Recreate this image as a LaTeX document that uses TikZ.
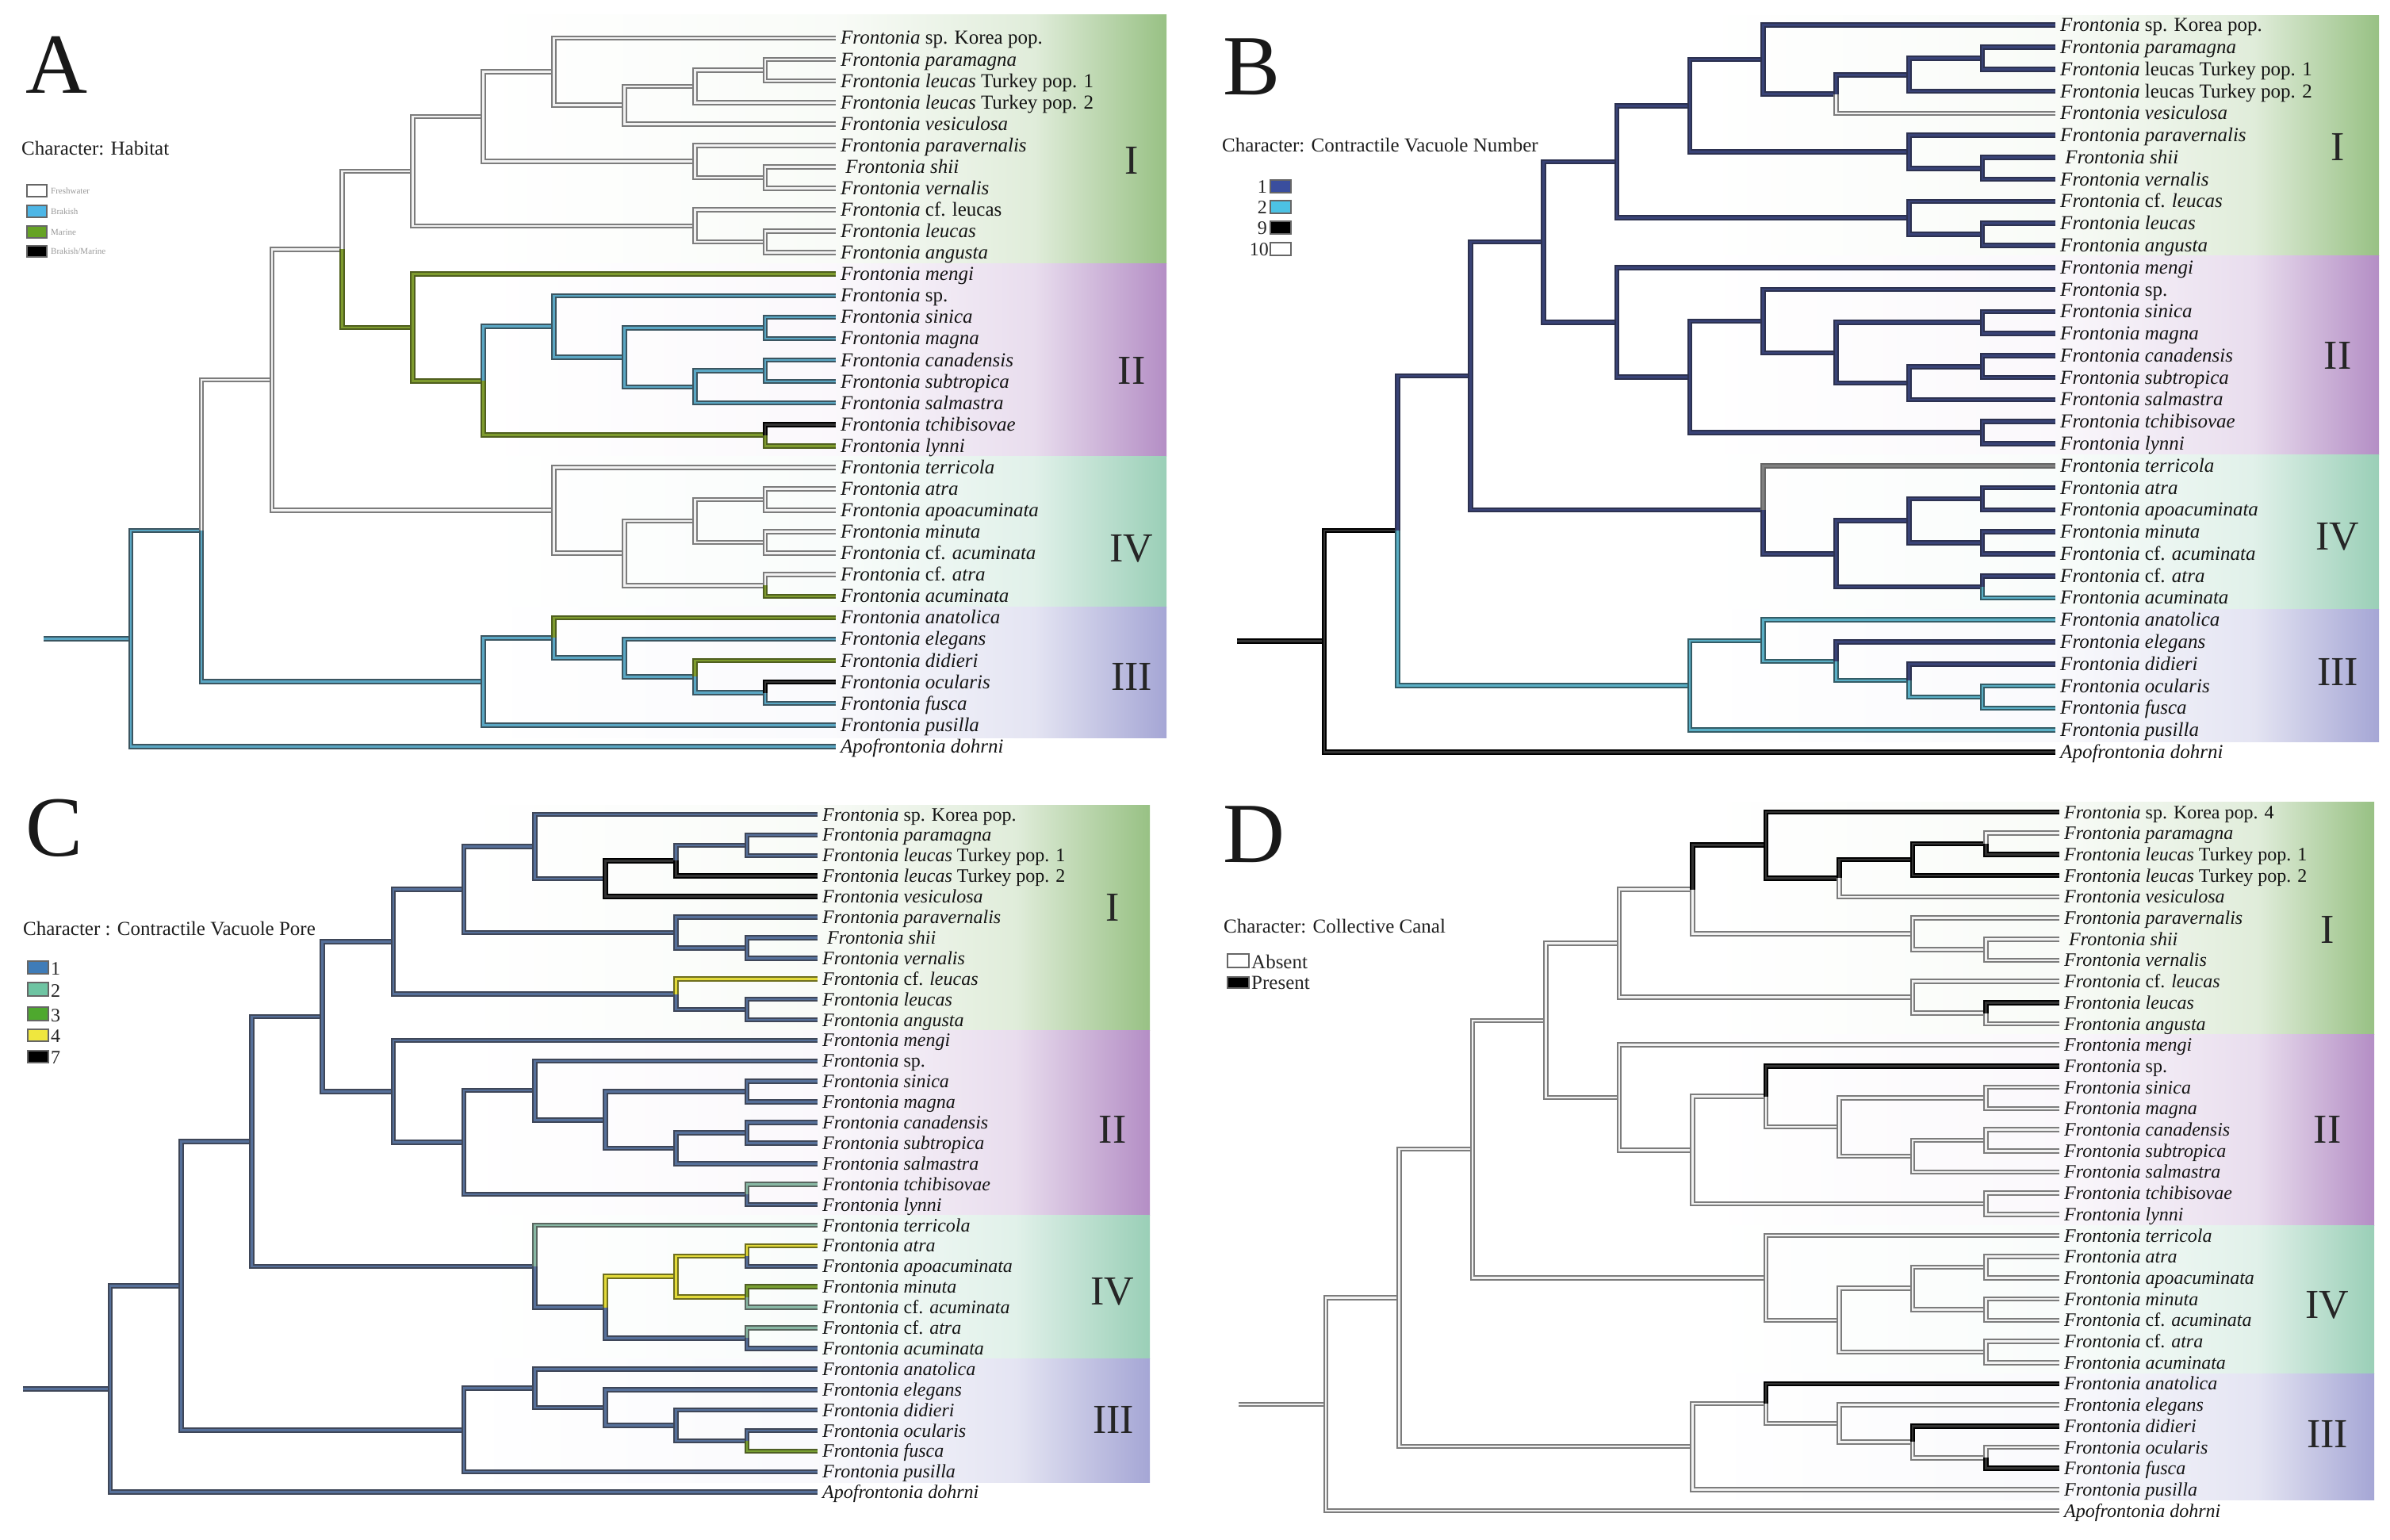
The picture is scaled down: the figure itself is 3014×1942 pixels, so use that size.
\documentclass[tikz,border=0pt]{standalone}
\usepackage{fontspec}
\setmainfont{Liberation Serif}
\usetikzlibrary{calc}

\definecolor{fwb}{HTML}{7C7C7C}
\definecolor{fwi}{HTML}{F2F2F2}
\definecolor{brkb}{HTML}{3B5560}
\definecolor{brki}{HTML}{5AA7C4}
\definecolor{marb}{HTML}{4F5F1E}
\definecolor{mari}{HTML}{7E9B2E}
\definecolor{navyb}{HTML}{2C3150}
\definecolor{navyi}{HTML}{394377}
\definecolor{s2b}{HTML}{345C66}
\definecolor{s2i}{HTML}{5AAFC6}
\definecolor{slateb}{HTML}{3E4658}
\definecolor{slatei}{HTML}{56709A}
\definecolor{p2b}{HTML}{5A6660}
\definecolor{p2i}{HTML}{88B8A4}
\definecolor{p3b}{HTML}{4E5E24}
\definecolor{p3i}{HTML}{78A032}
\definecolor{p4b}{HTML}{6E6E1E}
\definecolor{p4i}{HTML}{E2DA3A}
\definecolor{legbr}{HTML}{4DB6E6}
\definecolor{legma}{HTML}{66A324}
\definecolor{legBa}{HTML}{3A4E9E}
\definecolor{legBb}{HTML}{4CC2E4}
\definecolor{legCa}{HTML}{3F7CB8}
\definecolor{legCb}{HTML}{6EC4A2}
\definecolor{legCc}{HTML}{4EA82E}
\definecolor{legCd}{HTML}{EFE73E}
\definecolor{bandI}{HTML}{98C184}
\definecolor{bandII}{HTML}{B48EC5}
\definecolor{bandIV}{HTML}{9ACFB7}
\definecolor{bandIII}{HTML}{A5A6D5}

\tikzset{
 brn/.style={line width=2pt, double distance=2.6pt, line cap=butt, line join=miter},
 Afw/.style={brn, draw=fwb, double=fwi},
 Abr/.style={brn, draw=brkb, double=brki},
 Ama/.style={brn, draw=marb, double=mari},
 Abm/.style={brn, draw=black, double=black!80},
 Adef/.style={Afw},
 Bs1/.style={brn, draw=navyb, double=navyi},
 Bs2/.style={brn, draw=s2b, double=s2i},
 Bs9/.style={brn, draw=black, double=black!80},
 Bs10/.style={brn, draw=fwb, double=fwi},
 Bgr/.style={brn, draw=black!60, double=black!50},
 Bdef/.style={Bs1},
 Cp1/.style={brn, draw=slateb, double=slatei},
 Cp2/.style={brn, draw=p2b, double=p2i},
 Cp3/.style={brn, draw=p3b, double=p3i},
 Cp4/.style={brn, draw=p4b, double=p4i},
 Cp7/.style={brn, draw=black, double=black!80},
 Cdef/.style={Cp1},
 Dab/.style={brn, draw=fwb, double=fwi},
 Dpr/.style={brn, draw=black, double=black!80},
 Ddef/.style={Dab},
 lab/.style={anchor=base west, inner sep=0pt, text=black!92, font=\fontsize{\lfs}{\lfs}\selectfont},
 num/.style={text=black!85, inner sep=0pt, font=\fontsize{52}{52}\selectfont},
 ttl/.style={anchor=base west, inner sep=0pt, text=black!88, font=\fontsize{25}{25}\selectfont},
 big/.style={anchor=base west, inner sep=0pt, text=black!90, font=\fontsize{108}{108}\selectfont},
 lbox/.style={draw=black!60, line width=1.2pt},
 tiny/.style={anchor=west, inner sep=0pt, text=black!40, font=\fontsize{11}{11}\selectfont},
 legt/.style={inner sep=0pt, text=black!85, font=\fontsize{24}{24}\selectfont},
}

% branch state overrides
\newcommand\setst[3]{\foreach \x in {#3}{\expandafter\gdef\csname bst#1\x\endcsname{#2}}}
\setst{A}{Abr}{r,a,l34,t,l33,iii,iii1,l29,iii2,iii3,l32,ii2,l13,ii3,ii4,l14,l15,ii5,ii5a,l16,l17,l18}
\setst{A}{Ama}{l28,l30,ii,l12,ii1,ii6,l20,l27}
\setst{A}{Abm}{l31,l19}
\setst{B}{Bs9}{r,a,l34}
\setst{B}{Bs10}{l5}
\setst{B}{Bgr}{l21}
\setst{B}{Bs2}{l27,t,iii,l33,l28,iii1,iii2,iii3,l31,l32}
\setst{C}{Cp7}{l5,l4,i3a}
\setst{C}{Cp4}{l9,iv2,iv3,l22,iv4}
\setst{C}{Cp3}{l24,l32}
\setst{C}{Cp2}{l21,l25,l26,l19}
\setst{D}{Dpr}{i2,l1,i3,i3a,i3b,l3,l4,l10,l13,l28,l30,l32}

\newcommand\getst[1]{%
  \ifcsname bst\pf#1\endcsname\edef\thisst{\csname bst\pf#1\endcsname}%
  \else\edef\thisst{\pf def}\fi}
\newcommand\tbr[2]{\getst{#2}%
  \edef\tbrnext{\noexpand\draw[\thisst]}\tbrnext (\pf#1) |- (\pf#2);}
\newcommand\tstem{\getst{r}%
  \edef\tbrnext{\noexpand\draw[\thisst]}\tbrnext (\pf s) -- (\pf r);}

\newcommand\mk[5]{%
  \coordinate (tmpm) at ($(#1#4)!0.5!(#1#5)$);
  \coordinate (#1#2) at (#1h#3 |- tmpm);}

% #1 prefix, #2 root x, #3 level step, #4 first leaf y, #5 leaf step
\newcommand\deftree[5]{%
  \foreach \h in {0,...,10} {\coordinate (#1h\h) at ({#2+(10-\h)*#3},0);}
  \foreach \i in {1,...,34} {\coordinate (#1l\i) at ({#2+10*#3},{#4+(\i-1)*#5});}
  \mk{#1}{i3b}{1}{l2}{l3}\mk{#1}{i4a}{1}{l7}{l8}\mk{#1}{i5a}{1}{l10}{l11}
  \mk{#1}{ii4}{1}{l14}{l15}\mk{#1}{ii5a}{1}{l16}{l17}\mk{#1}{ii6}{1}{l19}{l20}
  \mk{#1}{iv3}{1}{l22}{l23}\mk{#1}{iv4}{1}{l24}{l25}\mk{#1}{iv5}{1}{l26}{l27}
  \mk{#1}{iii3}{1}{l31}{l32}
  \mk{#1}{i3a}{2}{i3b}{l4}\mk{#1}{i4}{2}{l6}{i4a}\mk{#1}{i5}{2}{l9}{i5a}
  \mk{#1}{ii5}{2}{ii5a}{l18}\mk{#1}{iv2}{2}{iv3}{iv4}\mk{#1}{iii2}{2}{l30}{iii3}
  \mk{#1}{i3}{3}{i3a}{l5}\mk{#1}{ii3}{3}{ii4}{ii5}\mk{#1}{iv1}{3}{iv2}{iv5}
  \mk{#1}{iii1}{3}{l29}{iii2}
  \mk{#1}{i2}{4}{l1}{i3}\mk{#1}{ii2}{4}{l13}{ii3}\mk{#1}{iv}{4}{l21}{iv1}
  \mk{#1}{iii}{4}{l28}{iii1}
  \mk{#1}{i1}{5}{i2}{i4}\mk{#1}{ii1}{5}{ii2}{ii6}\mk{#1}{t}{5}{iii}{l33}
  \mk{#1}{i}{6}{i1}{i5}\mk{#1}{ii}{6}{l12}{ii1}
  \mk{#1}{c}{7}{i}{ii}
  \mk{#1}{b}{8}{c}{iv}
  \mk{#1}{a}{9}{b}{t}
  \mk{#1}{r}{10}{a}{l34}
  \coordinate (#1s) at ($(#1r)+(-110,0)$);}

\newcommand\drawbranches{%
 \tstem
 \tbr{r}{a}\tbr{a}{b}\tbr{b}{c}\tbr{c}{i}\tbr{i}{i1}\tbr{i1}{i2}\tbr{i2}{l1}\tbr{i2}{i3}%
 \tbr{i3}{i3a}\tbr{i3a}{i3b}\tbr{i3b}{l2}\tbr{i3b}{l3}\tbr{i3a}{l4}\tbr{i3}{l5}%
 \tbr{i1}{i4}\tbr{i4}{l6}\tbr{i4}{i4a}\tbr{i4a}{l7}\tbr{i4a}{l8}%
 \tbr{i}{i5}\tbr{i5}{l9}\tbr{i5}{i5a}\tbr{i5a}{l10}\tbr{i5a}{l11}%
 \tbr{c}{ii}\tbr{ii}{l12}\tbr{ii}{ii1}\tbr{ii1}{ii2}\tbr{ii2}{l13}\tbr{ii2}{ii3}%
 \tbr{ii3}{ii4}\tbr{ii4}{l14}\tbr{ii4}{l15}\tbr{ii3}{ii5}\tbr{ii5}{ii5a}%
 \tbr{ii5a}{l16}\tbr{ii5a}{l17}\tbr{ii5}{l18}\tbr{ii1}{ii6}\tbr{ii6}{l19}\tbr{ii6}{l20}%
 \tbr{b}{iv}\tbr{iv}{l21}\tbr{iv}{iv1}\tbr{iv1}{iv2}\tbr{iv2}{iv3}\tbr{iv3}{l22}%
 \tbr{iv3}{l23}\tbr{iv2}{iv4}\tbr{iv4}{l24}\tbr{iv4}{l25}\tbr{iv1}{iv5}%
 \tbr{iv5}{l26}\tbr{iv5}{l27}%
 \tbr{a}{t}\tbr{t}{iii}\tbr{iii}{l28}\tbr{iii}{iii1}\tbr{iii1}{l29}\tbr{iii1}{iii2}%
 \tbr{iii2}{l30}\tbr{iii2}{iii3}\tbr{iii3}{l31}\tbr{iii3}{l32}\tbr{t}{l33}\tbr{r}{l34}}

\newcommand\lb[3]{\node[lab] (#1t#2) at ($(#1l#2)+(6,8)$) {#3};}
% #1 prefix, #2 Korea suffix, #3 Turkey form, #4 cf leucas form
\newcommand\leaflabels[4]{%
 \lb{#1}{1}{\textit{Frontonia} sp. Korea pop.#2}
 \lb{#1}{2}{\textit{Frontonia paramagna}}
 \lb{#1}{3}{\textit{Frontonia} #3 Turkey pop. 1}
 \lb{#1}{4}{\textit{Frontonia} #3 Turkey pop. 2}
 \lb{#1}{5}{\textit{Frontonia vesiculosa}}
 \lb{#1}{6}{\textit{Frontonia paravernalis}}
 \lb{#1}{7}{\ \textit{Frontonia shii}}
 \lb{#1}{8}{\textit{Frontonia vernalis}}
 \lb{#1}{9}{\textit{Frontonia} #4}
 \lb{#1}{10}{\textit{Frontonia leucas}}
 \lb{#1}{11}{\textit{Frontonia angusta}}
 \lb{#1}{12}{\textit{Frontonia mengi}}
 \lb{#1}{13}{\textit{Frontonia} sp.}
 \lb{#1}{14}{\textit{Frontonia sinica}}
 \lb{#1}{15}{\textit{Frontonia magna}}
 \lb{#1}{16}{\textit{Frontonia canadensis}}
 \lb{#1}{17}{\textit{Frontonia subtropica}}
 \lb{#1}{18}{\textit{Frontonia salmastra}}
 \lb{#1}{19}{\textit{Frontonia tchibisovae}}
 \lb{#1}{20}{\textit{Frontonia lynni}}
 \lb{#1}{21}{\textit{Frontonia terricola}}
 \lb{#1}{22}{\textit{Frontonia atra}}
 \lb{#1}{23}{\textit{Frontonia apoacuminata}}
 \lb{#1}{24}{\textit{Frontonia minuta}}
 \lb{#1}{25}{\textit{Frontonia} cf. \textit{acuminata}}
 \lb{#1}{26}{\textit{Frontonia} cf. \textit{atra}}
 \lb{#1}{27}{\textit{Frontonia acuminata}}
 \lb{#1}{28}{\textit{Frontonia anatolica}}
 \lb{#1}{29}{\textit{Frontonia elegans}}
 \lb{#1}{30}{\textit{Frontonia didieri}}
 \lb{#1}{31}{\textit{Frontonia ocularis}}
 \lb{#1}{32}{\textit{Frontonia fusca}}
 \lb{#1}{33}{\textit{Frontonia pusilla}}
 \lb{#1}{34}{\textit{Apofrontonia dohrni}}}

% #1 tip x, #2 right x, #3 top, #4 bottom, #5 colour
\newcommand\band[5]{%
 \fill[left color=white, right color=#5!6] ({#1-450},#3) rectangle (#1,#4);
 \fill[left color=#5!6, right color=#5!30] (#1,#3) rectangle ({#1+250},#4);
 \fill[left color=#5!30, right color=#5] ({#1+250},#3) rectangle (#2,#4);}

\begin{document}
\begin{tikzpicture}[x=1pt,y=-1pt]
\useasboundingbox (0,0) rectangle (3014,1942);
\fill[white] (0,0) rectangle (3014,1942);

% ---------- bands
\band{1054}{1471}{19}{332.5}{bandI}
\band{1054}{1471}{332.5}{575}{bandII}
\band{1054}{1471}{575}{765}{bandIV}
\band{1054}{1471}{765}{930}{bandIII}
\band{2592}{3000}{20}{323}{bandI}
\band{2592}{3000}{323}{573}{bandII}
\band{2592}{3000}{573}{768}{bandIV}
\band{2592}{3000}{768}{935}{bandIII}
\band{1031}{1450}{1015}{1299}{bandI}
\band{1031}{1450}{1299}{1532}{bandII}
\band{1031}{1450}{1532}{1713}{bandIV}
\band{1031}{1450}{1713}{1869}{bandIII}
\band{2597}{2994}{1011}{1304}{bandI}
\band{2597}{2994}{1304}{1545}{bandII}
\band{2597}{2994}{1545}{1732}{bandIV}
\band{2597}{2994}{1732}{1891}{bandIII}

% ---------- trees
\deftree{A}{165}{88.9}{48}{27.07}
\deftree{B}{1670}{92.2}{31.7}{27.78}
\deftree{C}{139}{89.2}{1027}{25.9}
\deftree{D}{1672}{92.5}{1024}{26.7}
\def\pf{A}\drawbranches
\def\pf{B}\drawbranches
\def\pf{C}\drawbranches
\def\pf{D}\drawbranches

% ---------- leaf labels
\def\lfs{25}
\leaflabels{A}{}{\textit{leucas}}{cf. leucas}
\leaflabels{B}{}{leucas}{cf. \textit{leucas}}
\def\lfs{24}
\leaflabels{C}{}{\textit{leucas}}{cf. \textit{leucas}}
\leaflabels{D}{ 4}{\textit{leucas}}{cf. \textit{leucas}}

% ---------- clade numerals
\node[num] (AnI) at (1427,202) {I};
\node[num] (AnII) at (1427,467) {II};
\node[num] (AnIV) at (1427,692) {IV};
\node[num] (AnIII) at (1427,853) {III};
\node[num] (BnI) at (2948,185) {I};
\node[num] (BnII) at (2948,448) {II};
\node[num] (BnIV) at (2948,677) {IV};
\node[num] (BnIII) at (2948,847) {III};
\node[num] (CnI) at (1403,1144) {I};
\node[num] (CnII) at (1403,1424) {II};
\node[num] (CnIV) at (1403,1629) {IV};
\node[num] (CnIII) at (1404,1790) {III};
\node[num] (DnI) at (2935,1172) {I};
\node[num] (DnII) at (2935,1424) {II};
\node[num] (DnIV) at (2935,1646) {IV};
\node[num] (DnIII) at (2935,1808) {III};

% ---------- panel letters and titles
\node[big] (LA) at (32,118) {A};
\node[big] (LB) at (1542,120) {B};
\node[big] (LC) at (32,1079) {C};
\node[big] (LD) at (1542,1087) {D};
\node[ttl] (TA) at (27,196) {Character: Habitat};
\node[ttl] (TB) at (1541,192) {Character: Contractile Vacuole Number};
\node[ttl] (TC) at (29,1179) {Character : Contractile Vacuole Pore};
\node[ttl] (TD) at (1543,1176) {Character: Collective Canal};

% ---------- legend A
\draw[lbox, fill=white] (34,233) rectangle (59,248);
\draw[lbox, fill=legbr] (34,259) rectangle (59,274);
\draw[lbox, fill=legma] (34,285) rectangle (59,300);
\draw[lbox, fill=black] (34,310) rectangle (59,324);
\node[tiny] (ka) at (64,240.5) {Freshwater};
\node[tiny] (kb) at (64,266.5) {Brakish};
\node[tiny] (kc) at (64,292.5) {Marine};
\node[tiny] (kd) at (64,317) {Brakish/Marine};

% ---------- legend B
\draw[lbox, fill=legBa] (1602,227) rectangle (1628,243);
\draw[lbox, fill=legBb] (1602,253) rectangle (1628,269);
\draw[lbox, fill=black] (1602,279) rectangle (1628,295);
\draw[lbox, fill=white] (1602,306) rectangle (1628,322);
\node[legt, anchor=base east] (kb1) at (1598,244) {1};
\node[legt, anchor=base east] (kb2) at (1598,270) {2};
\node[legt, anchor=base east] (kb9) at (1598,296) {9};
\node[legt, anchor=base east] (kb10) at (1600,323) {10};

% ---------- legend C
\draw[lbox, fill=legCa] (35,1212) rectangle (61,1228);
\draw[lbox, fill=legCb] (35,1239) rectangle (61,1256);
\draw[lbox, fill=legCc] (35,1270) rectangle (61,1287);
\draw[lbox, fill=legCd] (35,1298) rectangle (61,1313);
\draw[lbox, fill=black] (35,1325) rectangle (61,1340);
\node[legt, anchor=base west] (kc1) at (64,1229) {1};
\node[legt, anchor=base west] (kc2) at (64,1257) {2};
\node[legt, anchor=base west] (kc3) at (64,1288) {3};
\node[legt, anchor=base west] (kc4) at (64,1314) {4};
\node[legt, anchor=base west] (kc7) at (64,1341) {7};

% ---------- legend D
\draw[lbox, fill=white] (1548,1203) rectangle (1575,1220);
\draw[lbox, fill=black] (1548,1232) rectangle (1575,1246);
\node[legt, anchor=base west, font=\fontsize{25}{25}\selectfont] (kd1) at (1578,1221) {Absent};
\node[legt, anchor=base west, font=\fontsize{25}{25}\selectfont] (kd2) at (1578,1247) {Present};
\end{tikzpicture}
\end{document}
